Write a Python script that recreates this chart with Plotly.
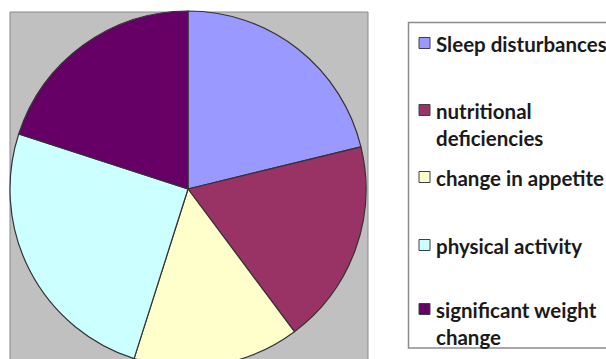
import textwrap
import plotly.graph_objects as go

# Share of reported symptoms (percent)
labels = [
    "Sleep disturbances",
    "nutritional deficiencies",
    "change in appetite",
    "physical activity",
    "significant weight change",
]
values = [21.2, 18.6, 15.1, 25.1, 20.0]
colors = ["#9999FF", "#993366", "#FFFFCC", "#CCFFFF", "#660066"]

W, H = 606, 380          # canvas is taller than the view so the pie runs off the bottom edge


def px_x(x):
    return x / W


def px_y(y):
    return 1 - y / H


fig = go.Figure(
    go.Pie(
        labels=labels,
        values=values,
        sort=False,
        direction="clockwise",
        rotation=0,
        textinfo="none",
        hoverinfo="label+percent",
        showlegend=False,
        marker=dict(colors=colors, line=dict(color="#333333", width=1.2)),
        domain=dict(x=[px_x(10), px_x(366)], y=[px_y(367), px_y(11)]),
    )
)

shapes = [
    # grey plot area
    dict(type="rect", xref="paper", yref="paper", layer="below",
         x0=px_x(10), x1=px_x(368), y0=px_y(H + 5), y1=px_y(12),
         fillcolor="#C0C0C0", line=dict(color="#8a8a8a", width=1)),
    # legend frame
    dict(type="rect", xref="paper", yref="paper", layer="below",
         x0=px_x(408.5), x1=px_x(640), y0=px_y(348), y1=px_y(22.5),
         fillcolor="white", line=dict(color="#8c8c8c", width=1.5)),
]

annotations = []
item_rows = [43, 110, 177, 245, 309]   # first-line centre of each legend entry
font_size = 20.5
line_h = font_size * 1.3
for lab, col, yc in zip(labels, colors, item_rows):
    shapes.append(dict(type="rect", xref="paper", yref="paper",
                       x0=px_x(419), x1=px_x(430), y0=px_y(yc + 5.5), y1=px_y(yc - 5.5),
                       fillcolor=col, line=dict(color="#404040", width=1)))
    text = "<br>".join(textwrap.wrap(lab, 18))
    annotations.append(dict(xref="paper", yref="paper", x=px_x(434), y=px_y(yc - line_h / 2),
                            xanchor="left", yanchor="top", align="left", showarrow=False,
                            text=text,
                            font=dict(family="Lato", size=font_size, color="#1a1a1a", weight="bold")))

fig.update_layout(
    width=W, height=H,
    margin=dict(l=0, r=0, t=0, b=0),
    paper_bgcolor="white",
    plot_bgcolor="white",
    shapes=shapes,
    annotations=annotations,
)

fig.write_html(
    "out.html",
    config=dict(displayModeBar=False),
    post_script="document.body.style.margin='0';document.body.style.overflow='hidden';"
                "document.documentElement.style.overflow='hidden';",
)
